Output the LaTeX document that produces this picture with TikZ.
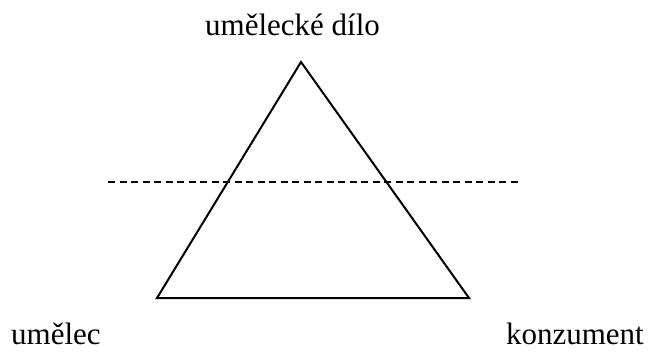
\documentclass[tikz,border=0pt]{standalone}
\usepackage{fontspec}
\setmainfont{Liberation Serif}
\usetikzlibrary{positioning}

\begin{document}
\begin{tikzpicture}[
  x=1pt, y=-1pt,
  label/.style={font=\fontsize{31}{36}\selectfont, inner sep=0pt, anchor=base},
  edge/.style={line width=2pt, line join=miter},
  cut/.style={line width=1.4pt, dash pattern=on 7pt off 4.5pt},
]
\useasboundingbox (0,0) rectangle (651,351);

% Labels
\node[label] (dilo) at (292.5,35) {umělecké dílo};
\node[label, anchor=base west] (umelec) at (11,344) {umělec};
\node[label, anchor=base east] (konzument) at (644,344) {konzument};

% Triangle
\coordinate (top) at (301,62);
\coordinate (left) at (157,298);
\coordinate (right) at (469,298);
\draw[edge] (top) -- (left) -- (right) -- cycle;

% Dashed line
\coordinate (cutA) at (108,182);
\coordinate (cutB) at (518,182);
\draw[cut] (cutA) -- (cutB);

\end{tikzpicture}
\end{document}
